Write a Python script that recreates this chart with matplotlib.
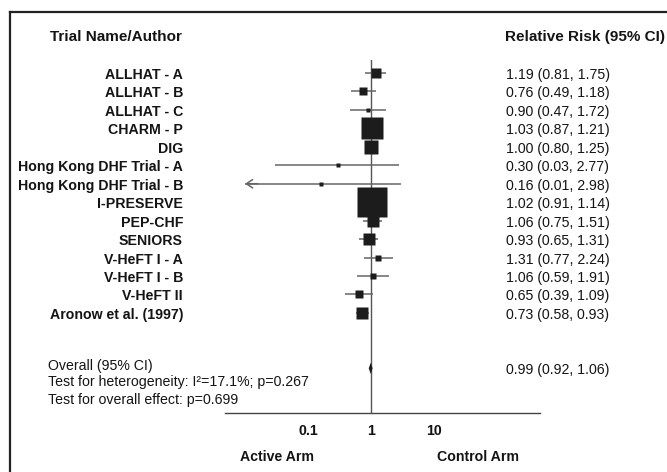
import matplotlib
matplotlib.use('Agg')
import matplotlib.pyplot as plt
import numpy as np
from matplotlib.lines import Line2D
import matplotlib.transforms as mtransforms

plt.rcParams['font.family'] = ['Liberation Sans', 'DejaVu Sans']

# ---------------- data ----------------
studies = ["ALLHAT - A", "ALLHAT - B", "ALLHAT - C", "CHARM - P", "DIG",
           "Hong Kong DHF Trial - A", "Hong Kong DHF Trial - B", "I-PRESERVE",
           "PEP-CHF", "SENIORS", "V-HeFT I - A", "V-HeFT I - B", "V-HeFT II",
           "Aronow et al. (1997)"]
rr = [1.19, 0.76, 0.90, 1.03, 1.00, 0.30, 0.16, 1.02, 1.06, 0.93, 1.31, 1.06, 0.65, 0.73]
lo = [0.81, 0.49, 0.47, 0.87, 0.80, 0.03, 0.01, 0.91, 0.75, 0.65, 0.77, 0.59, 0.39, 0.58]
hi = [1.75, 1.18, 1.72, 1.21, 1.25, 2.77, 2.98, 1.14, 1.51, 1.31, 2.24, 1.91, 1.09, 0.93]
weights = [4.1, 2.6, 0.7, 19.9, 8.1, 0.7, 1.0, 39.5, 5.9, 5.9, 1.7, 2.0, 2.6, 5.9]
overall_rr, overall_lo, overall_hi = 0.99, 0.92, 1.06
overall_lines = ["Overall (95% CI)",
                 "Test for heterogeneity: I\u00b2=17.1%; p=0.267",
                 "Test for overall effect: p=0.699"]
tick_vals = [0.1, 1, 10]
tick_labels = ["0.1", "1", "10"]
left_arm, right_arm = "Active Arm", "Control Arm"
col_left, col_right = "Trial Name/Author", "Relative Risk (95% CI)"

# ---------------- layout ----------------
W, H = 667, 472
fig = plt.figure(figsize=(W / 100, H / 100), dpi=100)
fig.patch.set_facecolor('white')

def fx(px):
    return px / W

def fy(py):
    return 1 - py / H

TXT = '#141414'
FS = 10.2
FSH = 11.0

ax = fig.add_axes([fx(225), fy(413), fx(540) - fx(225), (413 - 60) / H])
ax.set_xscale('log')
ax.set_xlim(10 ** ((225 - 371) / 63), 10 ** ((540 - 371) / 63))
ax.set_ylim(18.42, -0.704)
ax.patch.set_alpha(0)

for s in ['top', 'left', 'right']:
    ax.spines[s].set_visible(False)
ax.spines['bottom'].set_color('#444444')
ax.spines['bottom'].set_linewidth(1.0)
ax.set_yticks([])
ax.set_xticks(tick_vals)
ax.set_xticklabels(tick_labels, fontweight='bold', fontsize=FS, color=TXT)
ax.xaxis.set_minor_locator(matplotlib.ticker.NullLocator())
ax.tick_params(axis='x', length=0, pad=8)

ax.axvline(1, color='#555555', lw=1.0, zorder=1)

trans = mtransforms.blended_transform_factory(fig.transFigure, ax.transData)
trans_txt = trans + mtransforms.ScaledTranslation(0, -2 / 100, fig.dpi_scale_trans)

for i, (name, r, l, h, w) in enumerate(zip(studies, rr, lo, hi, weights)):
    ax.plot([l, h], [i, i], color='#666666', lw=1.1, zorder=2, solid_capstyle='butt')
    if l <= 0.01:
        ax.annotate('', xy=(l, i), xytext=(l * 1.6, i),
                    arrowprops=dict(arrowstyle='->,head_length=0.45,head_width=0.3',
                                    color='#666666', lw=1.1, shrinkA=0, shrinkB=0))
    side_px = 4.93 * np.sqrt(w)
    ax.plot([r], [i], marker='s', ms=side_px * 0.72, mfc='#1c1c1c', mec='none',
            linestyle='none', zorder=3)
    ax.text(fx(183), i, name, transform=trans_txt, ha='right', va='center',
            fontweight='bold', fontsize=FS, color=TXT, clip_on=False)
    ax.text(fx(506), i, f"{r:.2f} ({l:.2f}, {h:.2f})", transform=trans_txt,
            ha='left', va='center', fontsize=FS, color=TXT, clip_on=False)

# overall diamond
yo = 16
ax.fill([overall_lo, overall_rr, overall_hi, overall_rr],
        [yo, yo - 0.3, yo, yo + 0.3], color='#1c1c1c', zorder=3, lw=0)
ax.text(fx(506), yo, f"{overall_rr:.2f} ({overall_lo:.2f}, {overall_hi:.2f})",
        transform=trans_txt, ha='left', va='center', fontsize=FS, color=TXT, clip_on=False)

for txt, py in zip(overall_lines, [366, 382, 400]):
    fig.text(fx(48), fy(py), txt, ha='left', va='center', fontsize=FS, color=TXT)

# headers
fig.text(fx(50), fy(37), col_left, ha='left', va='center', fontweight='bold',
         fontsize=FSH, color=TXT)
fig.text(fx(505), fy(37), col_right, ha='left', va='center', fontweight='bold',
         fontsize=FSH, color=TXT)

# arm labels
fig.text(fx(277), fy(457), left_arm, ha='center', va='center', fontweight='bold',
         fontsize=FS, color=TXT)
fig.text(fx(478), fy(457), right_arm, ha='center', va='center', fontweight='bold',
         fontsize=FS, color=TXT)

# frame (left and top borders)
fig.add_artist(Line2D([fx(10), fx(10)], [fy(12), 0], transform=fig.transFigure,
                      color='#222222', lw=1.6))
fig.add_artist(Line2D([fx(10), 1], [fy(12), fy(12)], transform=fig.transFigure,
                      color='#222222', lw=1.6))

fig.savefig('out.png', dpi=100, facecolor='white')
